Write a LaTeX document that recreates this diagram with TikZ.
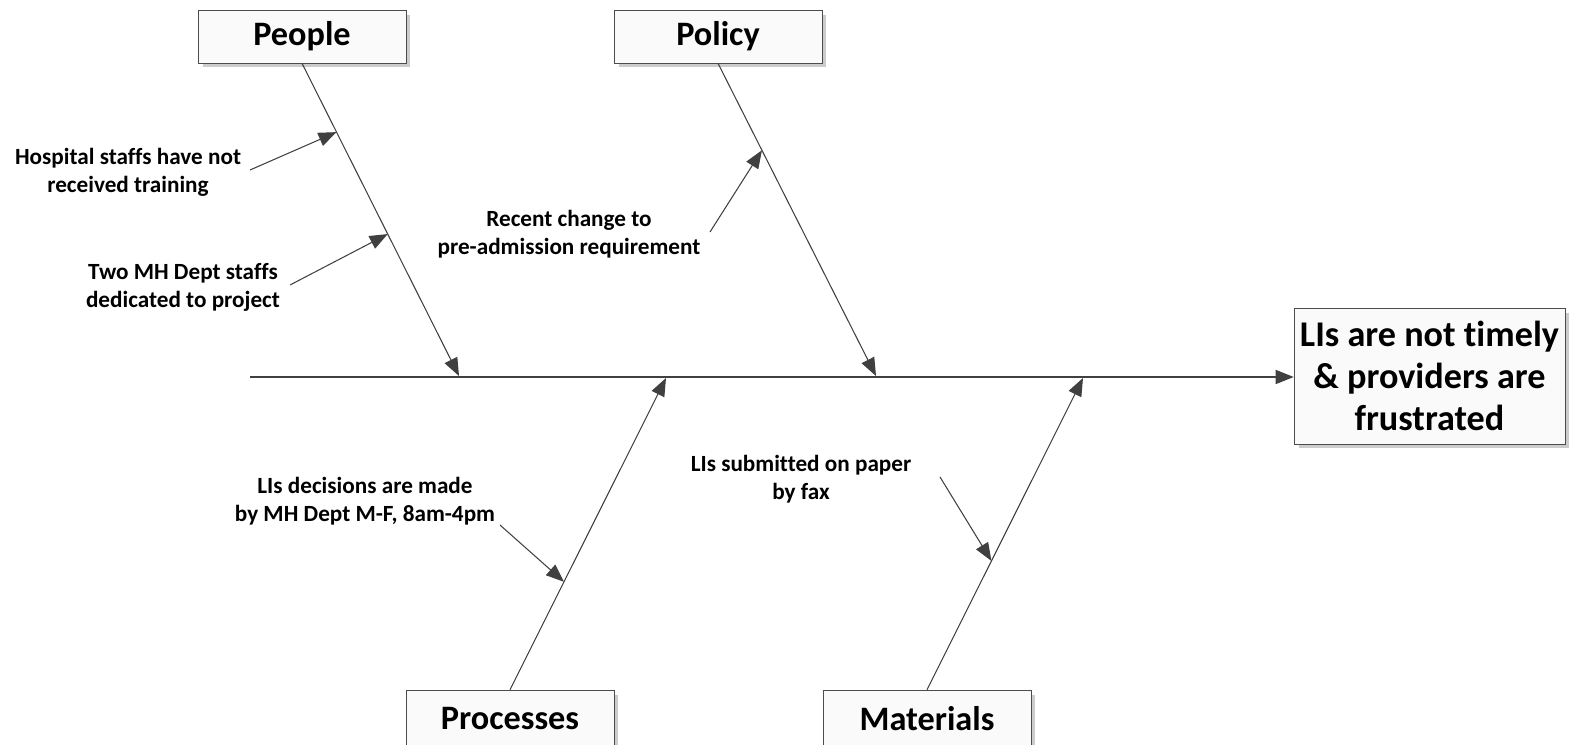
\documentclass[tikz,border=0pt]{standalone}
\usepackage{fontspec}
\setmainfont{Carlito}[Ligatures=NoCommon]
\usetikzlibrary{arrows.meta,shadows,calc}

\begin{document}
\begin{tikzpicture}[
    x=0.02cm, y=-0.02cm,
    causebox/.style={draw=black!70, fill=gray!4, minimum width=4.16cm, minimum height=1.06cm,
        font=\fontsize{19.5}{22}\selectfont\bfseries,
        drop shadow={shadow xshift=0.09cm, shadow yshift=-0.09cm, fill=black!20, opacity=1}},
    effectbox/.style={causebox, minimum width=5.42cm, minimum height=2.72cm,
        align=center, font=\fontsize{20.6}{24}\selectfont\bfseries},
    note/.style={align=center, font=\fontsize{13.2}{16}\selectfont\bfseries},
    bone/.style={draw=black!75, line width=0.6pt, -{Triangle[length=0.36cm, width=0.28cm]}}
]
    \useasboundingbox (0,0) rectangle (1571,744);

    % causes and effect
    \node[causebox] (people) at (302,36.5) {People};
    \node[causebox] (policy) at (718,36.5) {Policy};
    \node[causebox, minimum height=1.16cm] (processes) at (510,719) {Processes};
    \node[causebox, minimum height=1.16cm] (materials) at (927,719) {Materials};
    \node[effectbox] (effect) at (1429.5,376) {LIs are not timely\\\& providers are\\frustrated};

    % spine
    \coordinate (tail) at (250,377);
    \coordinate (pj) at (459,376);
    \coordinate (polj) at (876,376);
    \coordinate (prj) at (666,378);
    \coordinate (mj) at (1083,378);
    \draw[bone, line width=0.8pt] (tail) -- (effect.west |- tail);

    % main bones
    \draw[bone] (people.south) -- (pj);
    \draw[bone] (policy.south) -- (polj);
    \draw[bone] (processes.north) -- (prj);
    \draw[bone] (materials.north) -- (mj);

    % sub-causes
    \node[note] (hosp) at (128,172) {Hospital staffs have not\\received training};
    \node[note] (two) at (183,287) {Two MH Dept staffs\\dedicated to project};
    \node[note] (recent) at (569,234) {Recent change to\\pre-admission requirement};
    \node[note] (decide) at (365,501) {LIs decisions are made\\by MH Dept M-F, 8am-4pm};
    \node[note] (paper) at (801,479) {LIs submitted on paper\\by fax};

    \coordinate (hosp_s) at (250,170);
    \coordinate (two_s) at (290,285);
    \coordinate (recent_s) at (710,232);
    \coordinate (decide_s) at (500,525);
    \coordinate (paper_s) at (940,477);

    \draw[bone] (hosp_s) -- ($(people.south)!0.22!(pj)$);
    \draw[bone] (two_s) -- ($(people.south)!0.546!(pj)$);
    \draw[bone] (recent_s) -- ($(policy.south)!0.278!(polj)$);
    \draw[bone] (decide_s) -- ($(processes.north)!0.346!(prj)$);
    \draw[bone] (paper_s) -- ($(materials.north)!0.413!(mj)$);
\end{tikzpicture}
\end{document}
